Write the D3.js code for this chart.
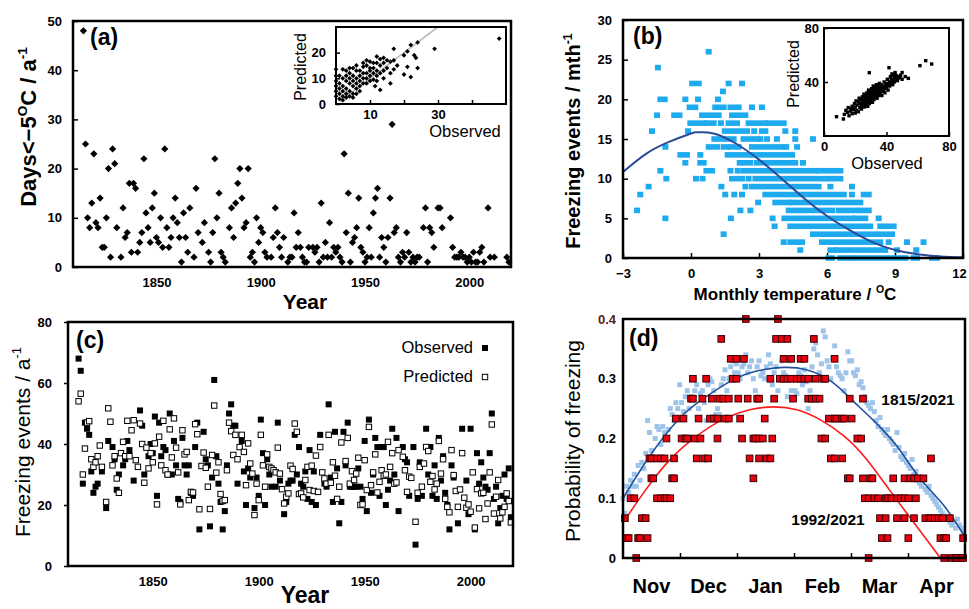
<!DOCTYPE html>
<html>
<head>
<meta charset="utf-8">
<script src="https://cdn.jsdelivr.net/npm/d3@7"></script>
<style>
  body { margin: 0; background: #fff; }
</style>
</head>
<body>
<svg id="fig" width="969" height="609"></svg>
<script>
const FONT = "Arial, 'Liberation Sans', Helvetica, sans-serif";

// (a) days below -5 C per winter, 1815..2021 (null = no point seen)
const firstYearA = 1815;
const daysBelowA = [
  48,25,10,8,13,23,9,8,14,4, 4,10,20,2,24,21,8,null,2,12,
  6,7,17,3,17,16,3,5,7,22, 11,8,5,12,15,6,5,10,4,24,
  8,4,6,10,14,9,6,1,11,6, 3,12,null,2,16,7,null,5,9,null,
  3,1,7,22,10,15,3,2,1,null, 8,12,6,13,17,20,14,8,9,20,
  2,3,1,10,5,8,7,3,2,null, 2,6,12,7,4,2,6,null,1,2,
  2,11,4,7,4,2,1,1,4,null, 4,3,4,1,13,2,5,2,9,2,
  4,3,4,2,1,23,7,15,1,5, 6,8,14,4,3,1,2,8,2,11,
  14,16,2,6,4,1,6,14,29,7, 8,2,1,3,2,7,3,1,2,1,
  2,2,null,8,12,1,8,7,4,null, 12,12,8,null,null,null,10,4,2,2,
  2,3,2,2,1,2,1,3,1,1, 3,4,1,null,12,2,null,2,null,null,
  null,null,null,2,1,null,null
];
// (a) inset: observed vs predicted
const insetA = [
  [48,25.5],[29,21.5],[22,23],[24,24],[21,20.5],[23,19],[23.5,18],[24,14],[21,14.5],[22,10.5],
  [20,11.5],[17,21.5],[17,13.5],[16,8],[14,10],[13,5.5],[11.5,7],[16,16.5],[15,17],[14,18],
  [13,17.5],[12,18.5],[11,16],[10,16.5],[9,17],[8,14.5],[8,12],[7,13],[6,13],[5,14],
  [4,12],[3,13],[2,13.5],[1,11],[0,13.5],[0,11],[0,9],[0,7],[0,5],[0,3],
  [1,8],[1,6],[1,4],[1,2],[2,10],[2,7],[2,5],[2,3],[3,9],[3,6],
  [3,4],[4,10],[4,8],[4,5],[5,11],[5,9],[5,7],[5,4],[6,10],[6,8],
  [6,6],[7,11],[7,9],[7,7],[8,10],[8,8],[9,12],[9,10],[9,8],[10,13],
  [10,11],[10,9],[11,14],[11,12],[12,13],[12,11],[13,15],[13,12],[14,13],[15,14],
  [16,12],[12,9],[11,9.5],[3,11],[4,14],[6,15],[9,15],[10,14],[14,16],[17,17],
  [18,15],[20,19],[2,1.5],[3,2.5],[4,3],[5,2.5],[6,4],[7,5],[12,16],[8,16]
];
const oneToOne = [[1, 1], [30, 30]];

// (b) monthly temperature vs freezing events: runs of squares [events, tFrom, tTo]
const eventRunsB = [
  [26,0.78,0.78],[24,-1.46,-1.46],
  [22,0.05,0.34],[22,1.66,1.66],[22,2.25,2.25],[21,1.41,1.41],
  [20,-1.35,-1.16],[20,-0.25,-0.25],[20,0.31,0.31],[20,1.19,1.19],
  [19,-0.06,0.19],[19,1.07,1.44],[19,1.74,2.1],[19,2.69,2.69],[19,3.13,3.13],
  [18,-1.5,-1.5],[18,-0.74,-0.51],[18,0.49,1.22],[18,1.81,2.4],
  [17,-0.03,0.56],[17,0.7,1.0],[17,1.32,1.32],[17,1.66,2.03],[17,2.54,3.28],[17,3.43,4.09],
  [16,-1.72,-1.72],[16,-0.13,-0.13],[16,1.49,1.81],[16,2.06,2.47],[16,2.79,2.79],[16,3.13,3.28],[16,4.16,4.16],[16,4.6,4.6],
  [15,1.03,1.88],[15,2.32,2.91],[15,3.06,3.06],[15,3.35,3.35],[15,3.79,3.79],[15,4.6,4.6],[15,5.38,5.38],
  [14,-1.13,-1.13],[14,0.78,1.15],[14,1.44,1.59],[14,1.76,2.1],[14,2.69,4.01],[14,4.2,4.2],[14,4.68,4.68],
  [13,-0.47,-0.18],[13,0.41,0.41],[13,1.62,2.62],[13,2.74,4.46],
  [12,-0.25,-0.25],[12,0.41,0.56],[12,2.15,2.15],[12,2.35,2.62],[12,2.91,4.6],[12,4.94,4.94],
  [11,-1.35,-1.35],[11,0.68,0.93],[11,1.74,1.74],[11,2.06,2.06],[11,2.32,2.69],[11,2.91,5.49],[11,5.63,6.59],
  [10,-1.09,-1.09],[10,0.22,0.22],[10,0.51,0.51],[10,1.81,2.25],[10,2.54,2.54],[10,2.84,5.93],[10,6.15,6.59],
  [9,-1.87,-1.87],[9,1.34,1.34],[9,2.4,2.4],[9,2.69,5.63],[9,6.15,6.15],[9,7.1,7.1],
  [8,-2.24,-2.24],[8,1.51,1.51],[8,1.91,1.91],[8,2.25,2.25],[8,3.28,6.74],[8,7.1,7.1],[8,7.62,7.84],
  [7,2.96,2.96],[7,3.72,4.31],[7,4.46,7.47],
  [6,-2.38,-2.38],[6,2.18,2.18],[6,2.62,2.62],[6,4.31,6.22],[6,6.51,7.25],[6,7.47,7.84],
  [5,-1.13,-1.13],[5,1.76,1.76],[5,3.6,3.6],[5,4.12,7.1],[5,7.25,7.69],[5,8.28,8.28],
  [4,3.69,3.69],[4,4.38,7.91],[4,8.35,8.94],
  [3,1.44,1.44],[3,5.38,8.13],[3,8.32,8.87],
  [2,4.09,4.09],[2,4.38,4.9],[2,5.78,8.35],[2,8.72,8.72],[2,9.53,9.53],[2,10.26,10.26],
  [1,4.82,4.82],[1,6.15,6.29],[1,6.44,8.57],[1,9.09,9.09],[1,9.94,9.94],
  [0,6.07,6.22],[0,6.59,7.1],[0,7.25,9.24],[0,9.46,9.46],[0,9.82,9.97],[0,10.63,10.85]
];
const fitTempB = [-3,-2,-1,0,0.3,1,2,3,4,5,6,7,8,9,10,11,12];
const fitEventsB = [10.85,13.1,14.6,15.7,15.85,15.7,14.4,12.4,10.0,7.5,5.3,3.5,2.0,1.0,0.46,0.2,0.08];
// (b) inset: observed vs predicted annual events
const insetB = [
  [8,14.3],[12.4,12.6],[13,16],[14,19],[15,17.5],[15.5,21],[16,15],[17,18.5],[17.5,20],[18,16.5],
  [18,22],[19,19.5],[19.5,24],[20,17],[20,21.5],[20.5,26],[21,19],[21.5,23],[22,18],[22,25.5],
  [22.5,28],[23,21],[23,24],[23.5,27],[24,20],[24,23],[24.5,26],[24.5,29],[25,22],[25,25],
  [25.5,28],[25.5,31],[26,21.5],[26,24],[26.5,27],[26.5,30],[27,23],[27,26],[27.5,29],[27.5,32],
  [28,22],[28,25],[28.5,28],[28.5,31],[28.5,34],[29,24],[29,27],[29.5,30],[29.5,33],[29,46.9],
  [30,26],[30,29],[30.5,32],[30.5,35],[31,25],[31,28],[31.5,31],[31.5,34],[31.5,37],[32,27],
  [32,30],[32.5,33],[32.5,36],[33,29],[33,32],[33.5,35],[33.5,38],[34,28],[34,31],[34.5,34],
  [34.5,37],[35,30],[35,33],[35.5,36],[35.5,39],[36,32],[36,35],[36.5,38],[37,30],[37,34],
  [37.5,37],[38,33],[38,36],[38.5,40],[39,32],[39,35],[39.5,38],[40,36],[40,39],[40.5,42],
  [41,34],[41,38],[41.6,50.6],[42,37],[42,40],[42.5,44],[43,39],[43,42],[43.5,46],[44,38],
  [44,41],[44.5,45],[45,40],[45,43],[45.5,47],[46,42],[46,45],[47,41],[47,44],[48,43],
  [48.6,44],[49,45],[50,42],[50,47],[52,44],[54,42.7],[61.4,52.1],[65.1,55.8],[68.9,53.3]
];

// (c) freezing events per winter [year, events]
const observedC = [
  [1815,68],[1816,64],[1817,27],[1818,47],[1819,45],[1820,43],[1821,31],[1822,24],[1823,26],[1824,27],
  [1826,31],[1828,19],[1829,41],[1831,39],[1832,35],[1833,25],[1834,30],[1836,33],[1837,35],[1838,41],
  [1839,38],[1841,28],[1844,51],[1845,46],[1846,30],[1848,36],[1849,40],[1850,37],[1851,49],[1852,23],
  [1853,47],[1854,36],[1855,39],[1856,38],[1857,30],[1858,50],[1859,30],[1860,41],[1861,33],[1862,22],
  [1863,21],[1864,42],[1865,33],[1866,30],[1867,33],[1868,24],[1869,23],[1870,39],[1871,47],[1872,12],
  [1874,44],[1875,35],[1876,33],[1877,13],[1878,29],[1879,61],[1880,36],[1881,27],[1882,21],[1883,12],
  [1884,18],[1885,33],[1886,50],[1887,53],[1888,46],[1889,46],[1890,27],[1892,41],[1893,31],[1894,20],
  [1895,32],[1896,29],[1898,19],[1899,29],[1900,23],[1901,48],[1902,37],[1903,20],[1904,35],[1905,30],
  [1906,26],[1908,26],[1909,47],[1910,28],[1912,17],[1913,21],[1914,27],[1915,28],[1916,28],[1917,43],
  [1918,30],[1919,39],[1920,27],[1921,26],[1922,31],[1923,22],[1924,38],[1925,21],[1926,31],[1927,20],
  [1929,43],[1931,27],[1932,26],[1933,53],[1934,29],[1935,21],[1936,44],[1937,32],[1938,14],[1939,21],
  [1940,44],[1941,33],[1942,47],[1943,26],[1944,26],[1945,26],[1946,26],[1947,32],[1948,26],[1949,22],
  [1950,41],[1951,18],[1952,48],[1953,24],[1954,30],[1955,42],[1956,39],[1957,23],[1958,39],[1959,39],
  [1960,20],[1961,25],[1962,28],[1963,45],[1964,30],[1965,42],[1966,18],[1968,39],[1969,35],[1970,34],
  [1971,23],[1973,39],[1974,7],[1975,22],[1976,34],[1977,23],[1979,45],[1980,30],[1981,39],[1982,23],
  [1983,33],[1984,22],[1985,42],[1986,28],[1987,36],[1988,24],[1989,20],[1990,12],[1991,33],[1992,29],
  [1994,14],[1996,45],[1998,28],[1999,17],[2000,45],[2002,12],[2003,37],[2004,27],[2005,34],[2006,29],
  [2007,26],[2008,25],[2009,37],[2010,50],[2011,22],[2012,26],[2013,14],[2014,19],[2015,23],[2016,30],
  [2017,22],[2018,32],[2019,16]
];
const predictedC = [
  [1815,54],[1816,56.5],[1817,30],[1818,38.5],[1819,47],[1820,47.5],[1821,35],[1822,32.5],[1823,34],[1824,36],
  [1825,39.5],[1826,32.5],[1828,21],[1829,51.7],[1830,47.3],[1831,33],[1832,36],[1833,28.7],[1834,24],[1835,37],
  [1836,40.7],[1837,36],[1838,47.6],[1839,36],[1840,44.5],[1841,47.8],[1842,34.7],[1843,32.5],[1844,46.7],[1845,40],
  [1846,27.3],[1847,38.8],[1848,32],[1849,37],[1850,34],[1851,40.2],[1852,20.2],[1853,42.4],[1854,33],[1855,47.6],
  [1856,31.4],[1857,30],[1858,44.8],[1859,35.6],[1860,48.4],[1861,38.8],[1862,30.7],[1863,20.2],[1864,44.5],[1865,36.6],
  [1866,37.4],[1867,21.6],[1868,24.3],[1869,24.1],[1870,46.5],[1871,43.2],[1872,18.6],[1873,32.8],[1874,37.2],[1875,32.2],
  [1876,26],[1877,18.7],[1878,36.4],[1879,52.6],[1880,30.6],[1881,34],[1882,23.6],[1883,21.3],[1884,21.6],[1885,31.4],
  [1886,47],[1887,44.2],[1888,36.4],[1889,43],[1890,35],[1891,39],[1892,43],[1893,37.4],[1894,26.5],[1895,40.2],
  [1896,33.6],[1897,30.3],[1898,16.7],[1899,27],[1900,21.6],[1901,43],[1902,33],[1903,26],[1904,36.6],[1905,32.5],
  [1906,32],[1907,31.4],[1908,30.7],[1909,38.8],[1910,30.3],[1911,25.2],[1912,20.5],[1913,22.7],[1914,23.8],[1915,32.9],
  [1916,31.8],[1917,46.7],[1918,44],[1919,23.6],[1920,23.8],[1921,22.5],[1922,28.2],[1923,32.5],[1924,24.9],[1925,32.9],
  [1926,24.6],[1927,36.2],[1928,24.3],[1929,39],[1930,30.7],[1931,28.7],[1932,27],[1933,43],[1934,27.3],[1935,34],
  [1936,29.6],[1937,22],[1938,26],[1939,40.5],[1941,34.4],[1942,42],[1943,27],[1944,31.1],[1945,28.2],[1946,30.3],
  [1947,35.5],[1948,20],[1949,20.2],[1950,34.7],[1951,24.9],[1952,45.6],[1953,26.5],[1954,30.7],[1955,36.6],[1956,24.1],
  [1957,27.6],[1958,31.4],[1959,29.6],[1960,30],[1961,40.7],[1962,32.5],[1963,37],[1964,27],[1965,27.4],[1966,38],
  [1968,35.8],[1969,31.4],[1970,24.3],[1971,29.3],[1972,28.9],[1974,14.5],[1975,24],[1976,32.5],[1977,26],[1978,33.6],
  [1979,39],[1980,37.7],[1981,27.6],[1982,29.5],[1983,25.1],[1984,27],[1985,41],[1986,30.3],[1987,35],[1988,22],
  [1989,19.4],[1990,17.6],[1991,38],[1992,29.8],[1993,24.6],[1994,19.4],[1995,25.1],[1996,37],[1997,22.4],[1998,19.1],
  [1999,20.2],[2000,17.8],[2001,30.7],[2002,12.6],[2003,25.2],[2004,18.9],[2005,23.8],[2006,24],[2007,15.4],[2008,20.5],
  [2009,30.7],[2010,46.4],[2011,17.2],[2012,22.7],[2013,28.2],[2014,15.6],[2015,17.6],[2016,19.4],[2017,23.8],[2018,21.3],
  [2019,14.3]
];

// (d) probability of freezing by day of season (day 0 = 1 Nov)
const monthNames = ["Nov", "Dec", "Jan", "Feb", "Mar", "Apr"];
const seasonDays = 181;
const probAll = [
  0.10,0.075,0.12,0.11,0.13,0.12,0.14,0.12,0.155,0.13,
  0.16,0.15,0.175,0.23,0.21,0.18,0.17,0.2,0.22,0.215,
  0.19,0.22,0.21,0.2,0.215,0.25,0.24,0.23,0.26,0.25,
  0.29,0.26,0.245,0.27,0.28,0.25,0.27,0.265,0.28,0.29,
  0.25,0.275,0.28,0.26,0.23,0.29,0.3,0.295,0.28,0.24,
  0.25,0.24,0.29,0.3,0.315,0.28,0.3,0.32,0.33,0.31,
  0.325,0.31,0.3,0.32,0.325,0.34,0.31,0.32,0.33,0.3,
  0.28,0.32,0.33,0.305,0.31,0.3,0.32,0.34,0.325,0.29,
  0.31,0.32,0.28,0.3,0.33,0.31,0.305,0.27,0.33,0.28,
  0.3,0.28,0.275,0.31,0.305,0.29,0.315,0.295,0.25,0.28,
  0.32,0.35,0.36,0.34,0.31,0.325,0.38,0.37,0.33,0.32,
  0.3,0.335,0.355,0.32,0.31,0.305,0.3,0.28,0.31,0.345,
  0.33,0.33,0.31,0.305,0.315,0.29,0.295,0.285,0.27,0.26,
  0.255,0.25,0.26,0.245,0.23,0.22,0.235,0.215,0.21,0.205,
  0.215,0.2,0.195,0.19,0.18,0.21,0.185,0.17,0.165,0.175,
  0.16,0.155,0.15,0.165,0.14,0.145,0.13,0.125,0.12,0.13,
  0.115,0.11,0.12,0.105,0.1,0.095,0.09,0.085,0.08,0.075,
  0.07,0.065,0.07,0.06,0.055,0.06,0.05,0.065,0.055,0.05,
  0.045
];
// 1992/2021: [day, freezing years out of 30]
const recentYears = 30;
const recentCounts = [
  [7,0],[130,0],[170,0],[174,0],[176,0],[177,0],[179,0],[180,0],
  [2,1],[3,1],[8,1],[9,1],[13,1],[137,1],[140,1],[151,1],[168,1],[170,1],[171,1],[180,1],
  [1,2],[10,2],[12,2],[136,2],[139,2],[145,2],[149,2],[154,2],[160,2],[162,2],[163,2],[165,2],[167,2],[169,2],[173,2],
  [4,3],[6,3],[18,3],[20,3],[22,3],[23,3],[25,3],[128,3],[130,3],[133,3],[135,3],[139,3],[140,3],[142,3],[145,3],[147,3],[149,3],[151,3],[155,3],
  [15,4],[16,4],[26,4],[27,4],[69,4],[119,4],[120,4],[127,4],[131,4],[132,4],[143,4],[149,4],[152,4],[154,4],[156,4],[159,4],
  [14,5],[15,5],[18,5],[20,5],[22,5],[27,5],[39,5],[43,5],[45,5],[67,5],[72,5],[76,5],[78,5],[110,5],[112,5],[116,5],[163,5],
  [23,6],[31,6],[33,6],[34,6],[38,6],[41,6],[50,6],[63,6],[69,6],[70,6],[72,6],[74,6],[79,6],[105,6],[107,6],[124,6],[126,6],
  [28,7],[32,7],[40,7],[46,7],[48,7],[50,7],[54,7],[56,7],[62,7],[75,7],[109,7],[112,7],[113,7],[116,7],[117,7],[121,7],
  [36,8],[37,8],[42,8],[47,8],[51,8],[53,8],[56,8],[61,8],[66,8],[71,8],[72,8],[80,8],[90,8],[98,8],[100,8],[102,8],[104,8],[120,8],[127,8],
  [37,9],[44,9],[58,9],[60,9],[78,9],[83,9],[85,9],[87,9],[89,9],[92,9],[94,9],[96,9],[98,9],[102,9],[106,9],[107,9],
  [57,10],[60,10],[64,10],[85,10],[89,10],[94,10],[96,10],[112,10],
  [52,11],[81,11],[84,11],[87,11],[101,11],
  [65,12],[82,12]
];
const fitDayAll = [0,14,30,44,60,74,85,97,110,120,132,145,157,170,181];
const fitProbAll = [0.10,0.17,0.234,0.27,0.301,0.315,0.319,0.315,0.296,0.268,0.232,0.187,0.134,0.087,0.035];
const fitDayRecent = [0,12,25,39,53,67,80,92,104,117,129,141,154,168];
const fitProbRecent = [0.059,0.114,0.165,0.204,0.232,0.248,0.253,0.248,0.232,0.204,0.165,0.114,0.059,0];

const svg = d3.select("#fig");

function frame(x0, y0, x1, y1, w) {
  svg.append("rect").attr("x", x0).attr("y", y0)
    .attr("width", x1 - x0).attr("height", y1 - y0)
    .attr("fill", "none").attr("stroke", "#000").attr("stroke-width", w);
}

function styleAxis(g, size) {
  g.select(".domain").remove();
  g.attr("font-family", FONT);
  g.selectAll("text").attr("font-size", size || 13).attr("font-weight", "bold").attr("fill", "#000");
  g.selectAll("line").attr("stroke", "#000").attr("stroke-width", 1.5);
  return g;
}

// tick > 0 points into the plot, tick < 0 points outward
function leftAxis(scale, x, ticks, fmt, pad, tick) {
  const ax = d3.axisLeft(scale).tickValues(ticks).tickFormat(fmt)
    .tickSizeInner(-tick).tickSizeOuter(0).tickPadding(tick < 0 ? pad + tick : pad);
  return styleAxis(svg.append("g").attr("transform", `translate(${x},0)`).call(ax));
}

function bottomAxis(scale, y, ticks, fmt, pad, tick) {
  const ax = d3.axisBottom(scale).tickValues(ticks).tickFormat(fmt)
    .tickSizeInner(-tick).tickSizeOuter(0).tickPadding(pad);
  return styleAxis(svg.append("g").attr("transform", `translate(0,${y})`).call(ax));
}

// label with optional superscripts: parts = [[text, isSup], ...]
function label(x, y, parts, opts) {
  const o = Object.assign({size: 20, weight: "bold", anchor: "middle", rotate: 0}, opts);
  const t = svg.append("text")
    .attr("transform", `translate(${x},${y}) rotate(${o.rotate})`)
    .attr("text-anchor", o.anchor).attr("font-family", FONT)
    .attr("font-size", o.size).attr("font-weight", o.weight).attr("fill", "#000");
  parts.forEach(([s, sup], i) => {
    const sp = t.append("tspan").text(s);
    if (sup) sp.attr("font-size", o.size * 0.62).attr("dy", -o.size * 0.42);
    else if (i > 0 && parts[i - 1][1]) sp.attr("dy", o.size * 0.42);
  });
  return t;
}

const diamond = r => `M0,${-r}L${r},0L0,${r}L${-r},0Z`;

// ---------------- (a) ----------------
const xA = d3.scaleLinear([1810, 2020], [73, 511]);
const yA = d3.scaleLinear([0, 50], [267, 21]);
const ptsA = daysBelowA.map((v, i) => ({year: firstYearA + i, v})).filter(d => d.v !== null);

leftAxis(yA, 73, [0, 10, 20, 30, 40, 50], d3.format("d"), 11, 5);
bottomAxis(xA, 267, [1850, 1900, 1950, 2000], d3.format("d"), 11, 0);

svg.append("g").selectAll("path").data(ptsA).join("path")
  .attr("d", diamond(3.6))
  .attr("transform", d => `translate(${xA(d.year)},${yA(d.v)})`)
  .attr("fill", "#000");
frame(73, 21, 511, 267, 2.5);

label(90, 45, [["(a)"]], {size: 23, anchor: "start"});
label(305, 309, [["Year"]], {size: 21});
label(36, 127, [["Days<\u22125"], ["O", true], ["C  / a"], ["-1", true]], {size: 22, rotate: -90});

// inset (a)
const xIA = d3.scaleLinear([0, 50], [336, 506]);
const yIA = d3.scaleLinear([0, 30], [104, 27]);
svg.append("rect").attr("x", 336).attr("y", 27).attr("width", 170).attr("height", 77).attr("fill", "#fff");
leftAxis(yIA, 336, [0, 10, 20], d3.format("d"), 10, 4);
bottomAxis(xIA, 104, [10, 20, 30, 40], d => (d === 10 || d === 30) ? d : "", 6, 4);
svg.append("path")
  .attr("d", d3.line().x(d => xIA(d[0])).y(d => yIA(d[1]))(oneToOne))
  .attr("stroke", "#bdbdbd").attr("stroke-width", 1.6).attr("fill", "none");
svg.append("g").selectAll("path").data(insetA).join("path")
  .attr("d", diamond(2.4))
  .attr("transform", d => `translate(${xIA(d[0])},${yIA(d[1])})`)
  .attr("fill", "#000");
frame(336, 27, 506, 104, 2);
label(306, 67, [["Predicted"]], {size: 16, weight: "normal", rotate: -90});
label(465, 137, [["Observed"]], {size: 16.5, weight: "normal"});

// ---------------- (b) ----------------
const xB = d3.scaleLinear([-3, 12], [623, 963]);
const yB = d3.scaleLinear([0, 30], [258, 20]);
leftAxis(yB, 623, [0, 5, 10, 15, 20, 25, 30], d3.format("d"), 11, 5);
const gxB = bottomAxis(xB, 258, [-3, 0, 3, 6, 9, 12], d3.format("d"), 11, 5);
gxB.selectAll("text").filter(d => d === 12).attr("dx", -4);

svg.append("g").selectAll("rect").data(eventRunsB).join("rect")
  .attr("x", d => xB(d[1]) - 3)
  .attr("width", d => xB(d[2]) - xB(d[1]) + 6)
  .attr("y", d => yB(d[0]) - 2.8)
  .attr("height", 5.6)
  .attr("fill", "#1eaaee");
svg.append("path")
  .attr("d", d3.line().x(d => xB(d[0])).y(d => yB(d[1])).curve(d3.curveNatural)(fitTempB.map((t, i) => [t, fitEventsB[i]])))
  .attr("stroke", "#2b4a96").attr("stroke-width", 2).attr("fill", "none");
frame(623, 20, 963, 258, 2.5);

label(633, 44, [["(b)"]], {size: 23, anchor: "start"});
label(795, 300, [["Monthly temperature / "], ["O", true], ["C"]], {size: 17});
label(580, 141, [["Freezing events / mth"], ["-1", true]], {size: 20, rotate: -90});

// inset (b)
const xIB = d3.scaleLinear([0, 80], [824, 949]);
const yIB = d3.scaleLinear([0, 80], [136, 28]);
svg.append("rect").attr("x", 824).attr("y", 28).attr("width", 125).attr("height", 108).attr("fill", "#fff");
leftAxis(yIB, 824, [40, 80], d3.format("d"), 5, 4);
bottomAxis(xIB, 136, [0, 40, 80], d3.format("d"), 6, 4);
svg.append("g").selectAll("rect").data(insetB).join("rect")
  .attr("x", d => xIB(d[0]) - 1.7).attr("y", d => yIB(d[1]) - 1.7)
  .attr("width", 3.4).attr("height", 3.4).attr("fill", "#000");
frame(824, 28, 949, 136, 2);
label(799, 74, [["Predicted"]], {size: 16, weight: "normal", rotate: -90});
label(887, 169, [["Observed"]], {size: 16.5, weight: "normal"});

// ---------------- (c) ----------------
const xC = d3.scaleLinear([1810, 2020], [68, 513]);
const yC = d3.scaleLinear([0, 80], [566, 322]);
leftAxis(yC, 68, [0, 20, 40, 60, 80], d3.format("d"), 16, -4);
bottomAxis(xC, 566, [1850, 1900, 1950, 2000], d3.format("d"), 11, 0);

svg.append("g").selectAll("rect").data(observedC).join("rect")
  .attr("x", d => xC(d[0]) - 3).attr("y", d => yC(d[1]) - 3)
  .attr("width", 6).attr("height", 6).attr("fill", "#000");
svg.append("g").selectAll("rect").data(predictedC).join("rect")
  .attr("x", d => xC(d[0]) - 2.7).attr("y", d => yC(d[1]) - 2.7)
  .attr("width", 5.4).attr("height", 5.4).attr("fill", "#fff")
  .attr("stroke", "#000").attr("stroke-width", 1);
frame(68, 322, 513, 566, 2.5);

label(76, 348, [["(c)"]], {size: 23, anchor: "start"});
label(305, 603, [["Year"]], {size: 23});
label(30, 442, [["Freezing events / a"], ["-1", true]], {size: 21, weight: "normal", rotate: -90});
label(473, 353, [["Observed"]], {size: 16.5, weight: "normal", anchor: "end"});
label(473, 382, [["Predicted"]], {size: 16.5, weight: "normal", anchor: "end"});
svg.append("rect").attr("x", 482).attr("y", 345).attr("width", 6).attr("height", 6).attr("fill", "#000");
svg.append("rect").attr("x", 482.3).attr("y", 374.3).attr("width", 5.4).attr("height", 5.4)
  .attr("fill", "#fff").attr("stroke", "#000").attr("stroke-width", 1);

// ---------------- (d) ----------------
const xD = d3.scaleLinear([0, seasonDays], [623, 965]);
const yD = d3.scaleLinear([0, 0.4], [558, 319]);
const monthW = seasonDays / monthNames.length;
const gy = leftAxis(yD, 623, [0, 0.1, 0.2, 0.3, 0.4], d => d === 0 ? "0" : d3.format(".1f")(d), 7, 0);
gy.selectAll("text").filter(d => d === 0.4).attr("fill", "#5a1a1a");
bottomAxis(xD, 558, d3.range(1, monthNames.length).map(i => i * monthW), () => "", 0, 5);
svg.append("g").selectAll("text").data(monthNames).join("text")
  .attr("x", (d, i) => xD((i + 0.5) * monthW)).attr("y", 593)
  .attr("text-anchor", "middle").attr("font-family", FONT)
  .attr("font-size", 20).attr("font-weight", "bold").text(d => d);

svg.append("g").selectAll("rect").data(probAll).join("rect")
  .attr("x", (d, i) => xD(i) - 2.5).attr("y", d => yD(d) - 2.5)
  .attr("width", 5).attr("height", 5).attr("fill", "#9fc4ea");
const lineD = d3.line().x(d => xD(d[0])).y(d => yD(d[1])).curve(d3.curveNatural);
svg.append("path")
  .attr("d", lineD(fitDayAll.map((t, i) => [t, fitProbAll[i]])))
  .attr("stroke", "#22509e").attr("stroke-width", 1.6).attr("fill", "none");
svg.append("path")
  .attr("d", lineD(fitDayRecent.map((t, i) => [t, fitProbRecent[i]])))
  .attr("stroke", "#ff1a1a").attr("stroke-width", 1.6).attr("fill", "none");
svg.append("g").selectAll("rect").data(recentCounts).join("rect")
  .attr("x", d => xD(d[0]) - 3.3).attr("y", d => yD(d[1] / recentYears) - 3.3)
  .attr("width", 6.6).attr("height", 6.6).attr("fill", "#e8000e")
  .attr("stroke", "#3a0000").attr("stroke-width", 1);
frame(623, 319, 965, 558, 2.5);

label(629, 346, [["(d)"]], {size: 23, anchor: "start"});
label(580, 441, [["Probability of freezing"]], {size: 21, weight: "normal", rotate: -90});
label(918, 405, [["1815/2021"]], {size: 15.5});
label(828, 525, [["1992/2021"]], {size: 15.5});
</script>
</body>
</html>
